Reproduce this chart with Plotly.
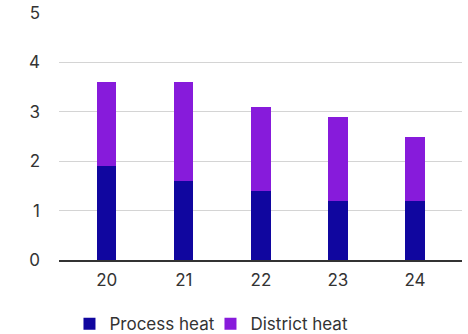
import plotly.graph_objects as go

years = ["20", "21", "22", "23", "24"]
process_heat = [1.9, 1.6, 1.4, 1.2, 1.2]
district_heat = [1.7, 2.0, 1.7, 1.7, 1.3]
y_ticks = [0, 1, 2, 3, 4, 5]

FONT = "Inter, Roboto, sans-serif"

fig = go.Figure()
fig.add_trace(go.Bar(name="Process heat", x=years, y=process_heat,
                     marker=dict(color="#10069F", line=dict(width=0)), width=0.25))
fig.add_trace(go.Bar(name="District heat", x=years, y=district_heat,
                     marker=dict(color="#871BDB", line=dict(width=0)), width=0.25))

fig.update_layout(
    barmode="stack",
    width=468, height=334,
    margin=dict(l=59, r=6, t=13, b=74, autoexpand=False),
    paper_bgcolor="white", plot_bgcolor="white",
    font=dict(family=FONT, size=17, color="#333333"),
    showlegend=True,
    legend=dict(orientation="h", x=0.026, xanchor="left",
                y=-0.26, yanchor="middle",
                font=dict(size=17, color="#333333"), traceorder="normal",
                itemwidth=30, borderwidth=0, tracegroupgap=0,
                entrywidth=96, entrywidthmode="pixels"),
    xaxis=dict(type="category", range=[-0.62, 4.61], showgrid=False,
               showline=True, linecolor="#333333", linewidth=2,
               ticks="", ticklabelstandoff=4,
               tickfont=dict(size=17, color="#333333")),
    yaxis=dict(range=[0, 5], tickvals=y_ticks, showgrid=True,
               gridcolor="#d4d4d4", gridwidth=1, zeroline=False,
               showline=False, ticks="", ticklabelstandoff=18,
               tickfont=dict(size=17, color="#333333")),
)

fig.write_html("out.html")
